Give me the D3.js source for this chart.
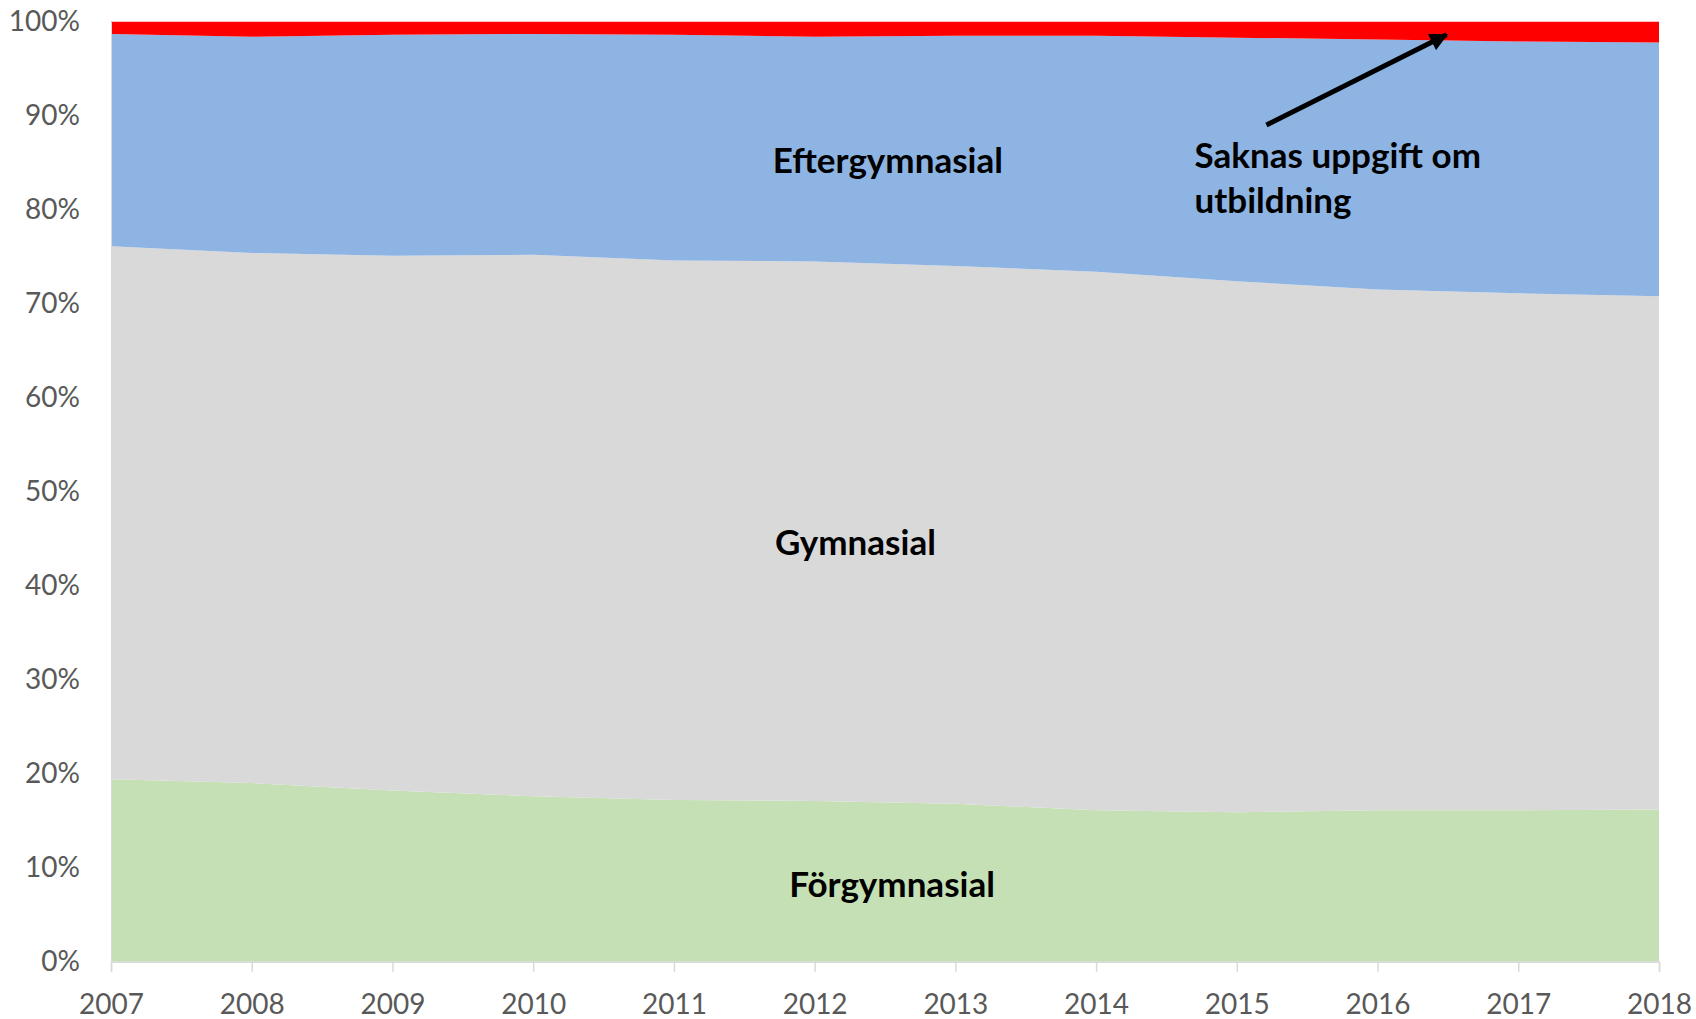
<!DOCTYPE html>
<html>
<head>
<meta charset="utf-8">
<script src="https://cdn.jsdelivr.net/npm/d3@7"></script>
<style>
  body { margin: 0; background: #fff; }
  svg { display: block; }
</style>
</head>
<body>
<svg class="chart"></svg>
<script>
// andel per utbildningsnivå, procent
const years = [2007, 2008, 2009, 2010, 2011, 2012, 2013, 2014, 2015, 2016, 2017, 2018]
const forgymnasial   = [19.4, 19.0, 18.2, 17.6, 17.2, 17.1, 16.8, 16.1, 15.9, 16.1, 16.1, 16.2]
const gymnasial      = [56.7, 56.4, 56.9, 57.6, 57.4, 57.4, 57.2, 57.3, 56.5, 55.4, 55.0, 54.6]
const eftergymnasial = [22.6, 23.0, 23.5, 23.5, 24.0, 23.9, 24.5, 25.1, 25.9, 26.6, 26.8, 27.0]
const saknas         = [1.3, 1.6, 1.4, 1.3, 1.4, 1.6, 1.5, 1.5, 1.7, 1.9, 2.1, 2.2]

const keys = ["Förgymnasial", "Gymnasial", "Eftergymnasial", "Saknas"]
const yTicks = [0, 10, 20, 30, 40, 50, 60, 70, 80, 90, 100]

// label placement in data units (year, percent)
const labels = [
  {text: "Eftergymnasial", year: 2012.52, value: 83.9},
  {text: "Gymnasial", year: 2012.29, value: 43.3},
  {text: "Förgymnasial", year: 2012.55, value: 6.9}
]
const noteLines = ["Saknas uppgift om", "utbildning"]
const note = {year: 2014.70, value: 84.4}
const arrow = {from: [2015.21, 89.0], to: [2016.49, 98.6]}

function render() {
  const width = 1696
  const height = 1019
  const margin = {top: 21.7, right: 37, bottom: 57.3, left: 111}

  const table = years.map((yr, i) => ({
    year: yr,
    "Förgymnasial": forgymnasial[i],
    "Gymnasial": gymnasial[i],
    "Eftergymnasial": eftergymnasial[i],
    "Saknas": saknas[i]
  }))

  const series = d3.stack().keys(keys)(table)

  const color = d3.scaleOrdinal()
    .domain(keys)
    .range(["#c5e0b4", "#d9d9d9", "#8eb4e3", "#ff0000"])

  let x = d3.scaleLinear()
    .domain(d3.extent(years))
    .range([margin.left, width - margin.right])

  let y = d3.scaleLinear()
    .domain([0, 100])
    .range([height - margin.bottom, margin.top])

  const area = d3.area()
    .x(d => x(d.data.year))
    .y0(d => y(d[0]))
    .y1(d => y(d[1]))

  const svg = d3.select("svg.chart")
    .attr("width", width)
    .attr("height", height)
    .attr("viewBox", [0, 0, width, height])

  svg.append("defs").append("marker")
      .attr("id", "head")
      .attr("viewBox", "0 0 10 10")
      .attr("refX", 9)
      .attr("refY", 5)
      .attr("markerWidth", 4.2)
      .attr("markerHeight", 3.6)
      .attr("orient", "auto")
    .append("path")
      .attr("d", "M0,0L10,5L0,10z")
      .attr("fill", "#000")

  svg.append("g")
    .selectAll("path")
    .data(series)
    .join("path")
      .attr("fill", d => color(d.key))
      .attr("d", area)

  // axes, excel style
  const xAxis = g => g
    .attr("transform", `translate(0,${y(0)})`)
    .call(d3.axisBottom(x).tickValues(years).tickFormat(d3.format("d")).tickSize(10).tickPadding(22))
    .call(g => g.select(".domain").attr("stroke", "#d9d9d9").attr("stroke-width", 1.5))
    .call(g => g.selectAll(".tick line").attr("stroke", "#d9d9d9").attr("stroke-width", 1.5))
    .call(g => g.selectAll(".tick text")
        .attr("fill", "#595959")
        .attr("font-family", "Lato, sans-serif")
        .attr("font-size", 28))

  const yAxis = g => g
    .attr("transform", `translate(${margin.left},0)`)
    .call(d3.axisLeft(y).tickValues(yTicks).tickFormat(d => d + "%").tickSize(0).tickPadding(31))
    .call(g => g.select(".domain").attr("stroke", "#d9d9d9").attr("stroke-width", 1))
    .call(g => g.selectAll(".tick text")
        .attr("fill", "#595959")
        .attr("font-family", "Lato, sans-serif")
        .attr("font-size", 28))

  svg.append("g").call(xAxis)
  svg.append("g").call(yAxis)

  svg.append("g")
    .selectAll("text")
    .data(labels)
    .join("text")
      .attr("x", d => x(d.year))
      .attr("y", d => y(d.value))
      .attr("text-anchor", "middle")
      .attr("font-family", "Lato, sans-serif")
      .attr("font-weight", "bold")
      .attr("font-size", 35)
      .attr("fill", "#000")
      .text(d => d.text)

  svg.append("g")
    .selectAll("text")
    .data(noteLines)
    .join("text")
      .attr("x", x(note.year))
      .attr("y", (d, i) => y(note.value) + i * 45)
      .attr("font-family", "Lato, sans-serif")
      .attr("font-weight", "bold")
      .attr("font-size", 35)
      .attr("fill", "#000")
      .text(d => d)

  svg.append("line")
      .attr("x1", x(arrow.from[0]))
      .attr("y1", y(arrow.from[1]))
      .attr("x2", x(arrow.to[0]))
      .attr("y2", y(arrow.to[1]))
      .attr("stroke", "#000")
      .attr("stroke-width", 5)
      .attr("marker-end", "url(#head)")
}

render()
</script>
</body>
</html>
